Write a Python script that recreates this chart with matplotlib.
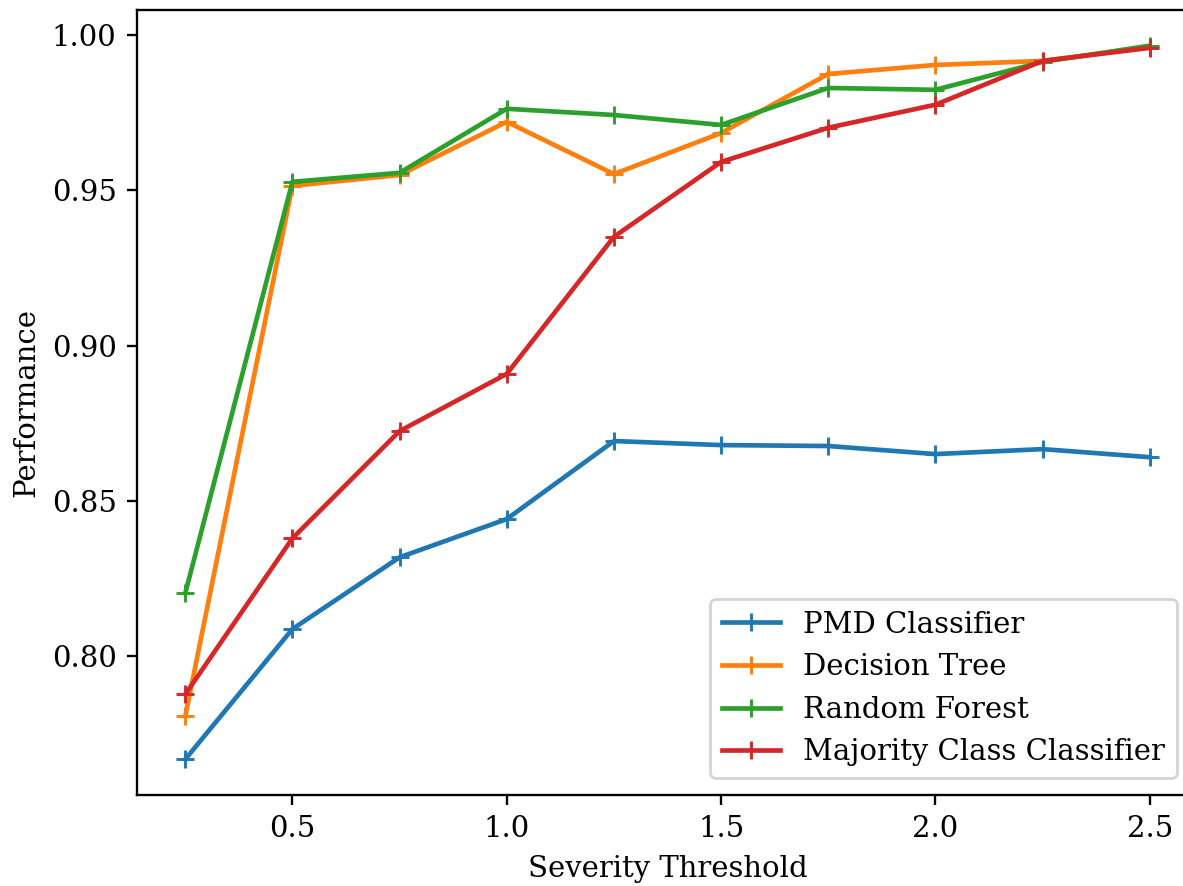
import numpy as np, matplotlib
matplotlib.use("Agg"); import matplotlib.pyplot as plt

plt.rcParams["font.family"] = "DejaVu Serif"

thresholds = [0.25, 0.5, 0.75, 1.0, 1.25, 1.5, 1.75, 2.0, 2.25, 2.5]
pmd = [0.7669, 0.8088, 0.8319, 0.8442, 0.8693, 0.8680, 0.8677, 0.8651, 0.8667, 0.8641]
tree = [0.7807, 0.9514, 0.9549, 0.9720, 0.9552, 0.9684, 0.9874, 0.9903, 0.9916, 0.9960]
forest = [0.8203, 0.9527, 0.9556, 0.9762, 0.9742, 0.9710, 0.9829, 0.9823, 0.9913, 0.9965]
majority = [0.7878, 0.8380, 0.8725, 0.8909, 0.9350, 0.9591, 0.9701, 0.9775, 0.9916, 0.9958]

series = [("PMD Classifier", pmd), ("Decision Tree", tree),
          ("Random Forest", forest), ("Majority Class Classifier", majority)]

dpi = 210
fig = plt.figure(figsize=(1183 / dpi, 886 / dpi), dpi=dpi)
# original figure was cropped on the right: axes run past the image edge
ax = fig.add_axes([137 / 1183, 91 / 886, 1061 / 1183, 785 / 886])
for name, vals in series:
    ax.plot(thresholds, vals, marker="+", lw=1.6, label=name)
ax.set_xlabel("Severity Threshold")
ax.set_ylabel("Performance")
ax.set_xticks([0.5, 1.0, 1.5, 2.0, 2.5])
ax.set_yticks([0.80, 0.85, 0.90, 0.95, 1.00])
ax.legend(loc="lower right", bbox_to_anchor=(1177 / 1183, 108 / 886),
          bbox_transform=fig.transFigure, borderaxespad=0)
fig.savefig("out.png", dpi=dpi)
